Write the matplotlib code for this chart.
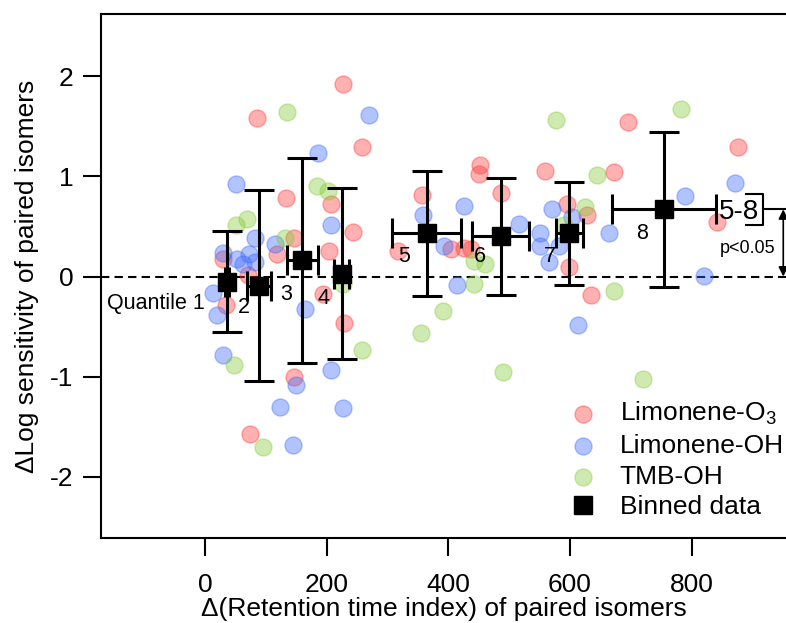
import matplotlib
matplotlib.use("Agg")
import matplotlib.pyplot as plt

plt.rcParams['font.family'] = ['Liberation Sans', 'DejaVu Sans']
plt.rcParams['mathtext.fontset'] = 'custom'
plt.rcParams['mathtext.rm'] = 'Liberation Sans'
plt.rcParams['mathtext.it'] = 'Liberation Sans:italic'
plt.rcParams['axes.unicode_minus'] = False

# ---- data ----
limo_o3_x = [227, 85.5, 258, 207, 132.6, 242.7, 146.8, 203, 117.8, 30, 70, 317.7, 194,
             34.5, 228.4, 146.3, 73.4, 452, 449.8, 559, 357, 487, 594.4, 627.8, 598.7,
             404, 426, 436.6, 633.8, 694.6, 876.5, 673, 841]
limo_o3_y = [1.92, 1.58, 1.29, 0.72, 0.78, 0.44, 0.38, 0.25, 0.22, 0.17, 0.02, 0.25, -0.17,
             -0.28, -0.46, -1.0, -1.57, 1.11, 1.02, 1.05, 0.81, 0.83, 0.72, 0.61, 0.10,
             0.27, 0.28, 0.27, -0.18, 1.54, 1.29, 1.04, 0.54]

limo_oh_x = [269, 186, 50.4, 207, 82.7, 115.6, 30, 53, 72, 82, 63, 13.7, 20.2, 30, 164,
             206.5, 149.5, 123, 226, 144, 426, 359, 570.8, 602.6, 516.5, 550.5, 550.5,
             582, 566, 393.3, 413.6, 613.5, 871.5, 789.4, 664, 820.6]
limo_oh_y = [1.61, 1.23, 0.92, 0.51, 0.38, 0.32, 0.23, 0.17, 0.22, 0.14, 0.12, -0.16, -0.38,
             -0.78, -0.32, -0.93, -1.08, -1.30, -1.31, -1.68, 0.70, 0.61, 0.67, 0.59, 0.52,
             0.43, 0.30, 0.30, 0.14, 0.30, -0.08, -0.48, 0.93, 0.80, 0.43, 0.01]

tmb_oh_x = [134, 183.5, 201.6, 69.6, 51, 132, 227, 258, 47.7, 96, 577, 643.7, 624, 589.5,
            442, 460, 442.6, 390.6, 355.8, 490.6, 782, 672.7, 720.4]
tmb_oh_y = [1.64, 0.90, 0.85, 0.57, 0.51, 0.38, -0.07, -0.73, -0.88, -1.70, 1.56, 1.01,
            0.69, 0.51, 0.15, 0.12, -0.07, -0.34, -0.56, -0.95, 1.67, -0.14, -1.02]

# binned (quantile) averages
bin_x = [35.6, 88.7, 160, 224.6, 364.3, 486, 598.7, 754.3]
bin_y = [-0.05, -0.09, 0.16, 0.03, 0.43, 0.40, 0.43, 0.67]
bin_xerr = [3, 20, 25, 12, 56.5, 47, 22.5, 85.4]
bin_yerr = [0.50, 0.955, 1.02, 0.857, 0.62, 0.58, 0.517, 0.77]
bin_names = ['Quantile 1', '2', '3', '4', '5', '6', '7', '8']

fig = plt.figure(figsize=(7.86, 6.23), dpi=100)
ax = fig.add_axes([0.1285, 0.1364, 0.8715, 0.8411])

ax.axhline(0, color='black', lw=1.5, ls=(0, (4, 2.5)), zorder=1)

ms = 150
ax.scatter(limo_o3_x, limo_o3_y, s=ms, color='#ff3a3a', alpha=0.4, linewidths=1,
           label='Limonene-O$_3$', zorder=2)
ax.scatter(limo_oh_x, limo_oh_y, s=ms, color='#3f6cff', alpha=0.4, linewidths=1,
           label='Limonene-OH', zorder=2)
ax.scatter(tmb_oh_x, tmb_oh_y, s=ms, color='#86cc3a', alpha=0.4, linewidths=1,
           label='TMB-OH', zorder=2)

ax.errorbar(bin_x, bin_y, xerr=bin_xerr, yerr=bin_yerr, fmt='none', ecolor='black',
            elinewidth=2.2, capsize=11, capthick=2.2, zorder=3)
ax.plot(bin_x, bin_y, 's', color='black', ms=12.5, ls='none', label='Binned data', zorder=4)

# quantile labels
lab_pos = [(-80, -0.27), (64, -0.31), (133, -0.18), (194, -0.22),
           (327, 0.20), (452, 0.20), (567, 0.20), (718, 0.43)]
for name, (tx, ty) in zip(bin_names, lab_pos):
    ax.text(tx, ty, name, fontsize=15.5, ha='center', va='center', zorder=5)

# significance marker for quantiles 5-8
ax.text(877, 0.647, '5-8', fontsize=20, ha='center', va='center', zorder=5)
ax.plot([890, 916.5, 916.5, 890], [0.824, 0.824, 0.517, 0.517], color='black', lw=1.5,
        zorder=5)
ax.plot([916.5, 960], [0.67, 0.67], color='black', lw=1.5, clip_on=False, zorder=5)
ax.annotate('', xy=(950.5, 0.0), xytext=(950.5, 0.67),
            arrowprops=dict(arrowstyle='<|-|>', color='black', lw=1.2,
                            mutation_scale=14, shrinkA=0, shrinkB=0))
ax.text(892, 0.28, 'p<0.05', fontsize=13, ha='center', va='center', zorder=5)

ax.set_xlim(-171, 955)
ax.set_ylim(-2.61, 2.62)
ax.set_xticks([0, 200, 400, 600, 800])
ax.set_yticks([-2, -1, 0, 1, 2])
ax.tick_params(direction='out', length=13, width=1.5, labelsize=19)
ax.tick_params(axis='x', pad=12)
ax.tick_params(axis='y', pad=7)
for side in ['left', 'bottom', 'top']:
    ax.spines[side].set_linewidth(1.5)
ax.spines['right'].set_visible(False)

ax.set_xlabel('\u0394(Retention time index) of paired isomers', fontsize=19, labelpad=0)
ax.set_ylabel('\u0394Log sensitivity of paired isomers', fontsize=19, labelpad=8)

ax.legend(loc='upper left', bbox_to_anchor=(0.6745, 0.264), frameon=False, fontsize=19,
          handlelength=1.5, handletextpad=0.65, labelspacing=0.26, borderpad=0,
          borderaxespad=0, markerscale=1.0)

fig.savefig('out.png', dpi=100)
